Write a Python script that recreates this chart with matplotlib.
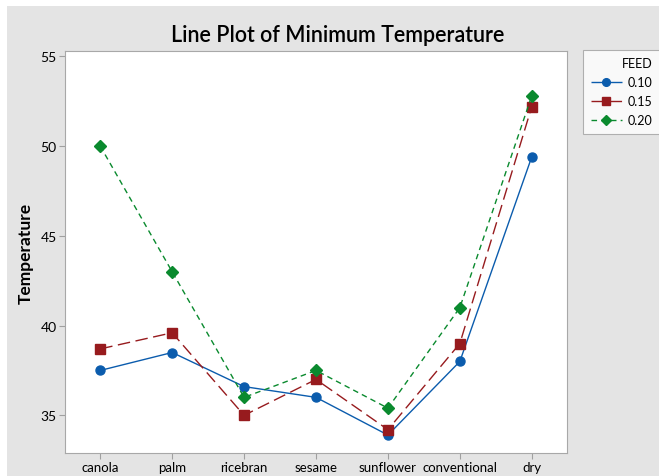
import matplotlib
matplotlib.use("Agg")
import matplotlib.pyplot as plt
from matplotlib.patches import Rectangle

categories = ["canola", "palm", "ricebran", "sesame", "sunflower", "conventional", "dry"]
feed_labels = ["0.10", "0.15", "0.20"]
feed_010 = [37.5, 38.5, 36.6, 36.0, 33.9, 38.0, 49.4]
feed_015 = [38.7, 39.6, 35.0, 37.0, 34.2, 39.0, 52.2]
feed_020 = [50.0, 43.0, 36.0, 37.5, 35.4, 41.0, 52.8]
y_ticks = [35, 40, 45, 50, 55]

plt.rcParams["font.family"] = ["Lato", "DejaVu Sans"]

W, H = 659, 477
fig = plt.figure(figsize=(W / 100, H / 100), dpi=100)
fig.patch.set_facecolor("white")
# grey panel behind everything, white strip at top/left
fig.add_artist(Rectangle((7 / W, 0), 1 - 7 / W, 1 - 7 / H, transform=fig.transFigure,
                         facecolor="#e4e4e4", edgecolor="none", zorder=0))

ax = fig.add_axes([65 / W, 1 - 454 / H, (567 - 65) / W, (454 - 52) / H])
ax.set_facecolor("white")
x = list(range(len(categories)))

styles = [
    (feed_010, "#0b5cad", "o", (0, ()), 6.5),
    (feed_015, "#971b1e", "s", (0, (9, 4)), 7),
    (feed_020, "#0a8a2e", "D", (0, (4, 3)), 6),
]
handles = []
for (vals, col, mk, ls, ms), lab in zip(styles, feed_labels):
    h, = ax.plot(x, vals, color=col, linestyle=ls, linewidth=1.0, marker=mk,
                 markersize=ms, markerfacecolor=col, markeredgecolor=col, label=lab)
    handles.append(h)

ax.set_xlim(-0.49, 6.49)
ax.set_ylim(32.9, 55.3)
ax.set_xticks(x)
ax.set_xticklabels(categories, fontsize=9.5)
ax.set_yticks(y_ticks)
ax.set_yticklabels([str(v) for v in y_ticks], fontsize=10)
ax.tick_params(length=4, color="#a0a0a0", pad=2)
for s in ax.spines.values():
    s.set_color("#a8a8a8")
ax.set_ylabel("Temperature", fontsize=12.5, fontweight="bold", labelpad=5)

fig.text(338 / W, 1 - 36 / H, "Line Plot of Minimum Temperature", ha="center",
         va="center", fontsize=15.5, fontweight="semibold")

leg = fig.legend(handles=handles, labels=feed_labels, loc="upper left",
                 bbox_to_anchor=(583 / W, 1 - 51 / H), title="FEED",
                 fontsize=9, title_fontsize=9, frameon=True, fancybox=False,
                 edgecolor="#a0a0a0", handlelength=2.5, handletextpad=0.5,
                 borderpad=0.6, borderaxespad=0, labelspacing=0.55,
                 markerscale=0.85, alignment="right")
leg.get_frame().set_facecolor("white")
leg.get_frame().set_linewidth(0.8)

fig.savefig("out.png", dpi=100)
